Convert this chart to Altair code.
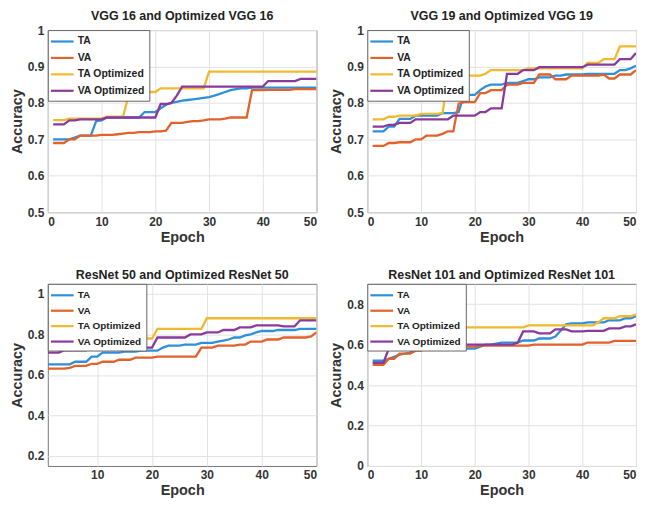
import altair as alt
import pandas as pd

SERIES = ["TA", "VA", "TA Optimized", "VA Optimized"]
COLORS = ["#2f8fd8", "#e2622a", "#f0b92e", "#8a3a9c"]
EPOCHS = list(range(1, 51))

# ---- VGG 16 ----
vgg16_ta = [0.70, 0.70, 0.70, 0.70, 0.705, 0.71, 0.71, 0.71, 0.75, 0.752,
            0.76, 0.76, 0.76, 0.76, 0.76, 0.76, 0.76, 0.775, 0.775, 0.775,
            0.785, 0.795, 0.80, 0.803, 0.806, 0.808, 0.81, 0.812, 0.814, 0.816,
            0.82, 0.825, 0.83, 0.835, 0.838, 0.84, 0.84, 0.842, 0.842, 0.842,
            0.842, 0.842, 0.842, 0.842, 0.842, 0.842, 0.842, 0.842, 0.842, 0.842]
vgg16_va = [0.69, 0.69, 0.69, 0.70, 0.70, 0.71, 0.71, 0.71, 0.71, 0.712,
            0.712, 0.712, 0.714, 0.716, 0.718, 0.718, 0.72, 0.72, 0.72, 0.722,
            0.722, 0.724, 0.745, 0.745, 0.745, 0.748, 0.75, 0.75, 0.752, 0.755,
            0.755, 0.755, 0.757, 0.76, 0.76, 0.76, 0.76, 0.835, 0.835, 0.835,
            0.836, 0.836, 0.836, 0.836, 0.836, 0.838, 0.838, 0.838, 0.838, 0.838]
vgg16_tao = [0.753, 0.753, 0.753, 0.757, 0.757, 0.757, 0.757, 0.757, 0.757, 0.757,
             0.762, 0.762, 0.762, 0.762, 0.82, 0.825, 0.83, 0.83, 0.83, 0.83,
             0.84, 0.84, 0.84, 0.84, 0.84, 0.84, 0.84, 0.84, 0.84, 0.886,
             0.886, 0.886, 0.886, 0.886, 0.886, 0.886, 0.886, 0.886, 0.886, 0.886,
             0.886, 0.886, 0.886, 0.886, 0.886, 0.886, 0.886, 0.886, 0.886, 0.886]
vgg16_vao = [0.741, 0.741, 0.741, 0.752, 0.752, 0.755, 0.755, 0.755, 0.755, 0.755,
             0.76, 0.76, 0.76, 0.76, 0.76, 0.76, 0.76, 0.76, 0.76, 0.76,
             0.797, 0.797, 0.80, 0.82, 0.845, 0.845, 0.845, 0.845, 0.845, 0.845,
             0.845, 0.845, 0.845, 0.845, 0.845, 0.845, 0.845, 0.845, 0.845, 0.845,
             0.86, 0.86, 0.86, 0.86, 0.86, 0.86, 0.866, 0.866, 0.866, 0.866]

# ---- VGG 19 ----
vgg19_ta = [0.722, 0.722, 0.722, 0.735, 0.735, 0.756, 0.756, 0.756, 0.765, 0.765,
            0.765, 0.765, 0.765, 0.772, 0.772, 0.772, 0.775, 0.822, 0.822, 0.822,
            0.835, 0.845, 0.85, 0.85, 0.85, 0.855, 0.855, 0.855, 0.86, 0.865,
            0.865, 0.87, 0.87, 0.87, 0.875, 0.875, 0.878, 0.878, 0.878, 0.878,
            0.88, 0.88, 0.88, 0.88, 0.88, 0.88, 0.89, 0.89, 0.895, 0.902]
vgg19_va = [0.682, 0.682, 0.682, 0.69, 0.69, 0.692, 0.692, 0.692, 0.70, 0.70,
            0.71, 0.71, 0.71, 0.715, 0.722, 0.722, 0.798, 0.802, 0.802, 0.802,
            0.827, 0.827, 0.835, 0.835, 0.835, 0.85, 0.85, 0.85, 0.855, 0.855,
            0.855, 0.878, 0.878, 0.878, 0.865, 0.865, 0.865, 0.875, 0.875, 0.875,
            0.875, 0.875, 0.875, 0.878, 0.867, 0.867, 0.878, 0.878, 0.878, 0.89]
vgg19_tao = [0.755, 0.755, 0.755, 0.762, 0.762, 0.765, 0.765, 0.765, 0.765, 0.77,
             0.77, 0.77, 0.77, 0.772, 0.872, 0.875, 0.875, 0.875, 0.875, 0.875,
             0.875, 0.88, 0.89, 0.89, 0.89, 0.89, 0.89, 0.89, 0.89, 0.895,
             0.895, 0.895, 0.895, 0.895, 0.895, 0.895, 0.895, 0.895, 0.895, 0.895,
             0.91, 0.91, 0.91, 0.92, 0.92, 0.92, 0.955, 0.955, 0.955, 0.955]
vgg19_vao = [0.735, 0.735, 0.735, 0.74, 0.74, 0.745, 0.745, 0.745, 0.755, 0.755,
             0.755, 0.755, 0.755, 0.755, 0.755, 0.765, 0.765, 0.765, 0.765, 0.765,
             0.775, 0.775, 0.785, 0.785, 0.785, 0.88, 0.88, 0.88, 0.89, 0.89,
             0.89, 0.898, 0.898, 0.898, 0.898, 0.898, 0.898, 0.898, 0.898, 0.898,
             0.905, 0.905, 0.905, 0.905, 0.905, 0.905, 0.92, 0.92, 0.92, 0.937]

# ---- ResNet 50 ----
r50_ta = [0.652, 0.652, 0.652, 0.652, 0.652, 0.665, 0.665, 0.665, 0.69, 0.69,
          0.71, 0.71, 0.71, 0.71, 0.715, 0.715, 0.715, 0.72, 0.72, 0.72,
          0.72, 0.735, 0.745, 0.745, 0.745, 0.75, 0.75, 0.75, 0.758, 0.758,
          0.758, 0.765, 0.77, 0.775, 0.785, 0.785, 0.795, 0.80, 0.81, 0.817,
          0.817, 0.817, 0.822, 0.822, 0.822, 0.822, 0.828, 0.828, 0.828, 0.828]
r50_va = [0.631, 0.631, 0.631, 0.631, 0.635, 0.645, 0.645, 0.645, 0.655, 0.655,
          0.665, 0.665, 0.665, 0.675, 0.675, 0.675, 0.685, 0.685, 0.685, 0.685,
          0.69, 0.69, 0.69, 0.69, 0.69, 0.69, 0.69, 0.69, 0.735, 0.735,
          0.735, 0.745, 0.745, 0.745, 0.745, 0.75, 0.75, 0.765, 0.765, 0.765,
          0.775, 0.775, 0.775, 0.785, 0.785, 0.785, 0.785, 0.785, 0.79, 0.81]
r50_tao = [0.734, 0.734, 0.734, 0.74, 0.74, 0.74, 0.74, 0.74, 0.75, 0.75,
           0.75, 0.75, 0.75, 0.75, 0.75, 0.76, 0.76, 0.78, 0.78, 0.78,
           0.828, 0.828, 0.828, 0.828, 0.828, 0.828, 0.828, 0.828, 0.828, 0.88,
           0.88, 0.88, 0.88, 0.88, 0.88, 0.88, 0.88, 0.88, 0.88, 0.88,
           0.88, 0.88, 0.88, 0.88, 0.88, 0.88, 0.88, 0.88, 0.88, 0.88]
r50_vao = [0.71, 0.71, 0.71, 0.722, 0.722, 0.722, 0.722, 0.722, 0.735, 0.735,
           0.735, 0.735, 0.735, 0.735, 0.735, 0.735, 0.735, 0.735, 0.735, 0.735,
           0.785, 0.785, 0.785, 0.785, 0.785, 0.785, 0.80, 0.80, 0.80, 0.81,
           0.81, 0.81, 0.822, 0.822, 0.822, 0.835, 0.835, 0.835, 0.845, 0.845,
           0.845, 0.845, 0.845, 0.84, 0.84, 0.84, 0.87, 0.87, 0.87, 0.87]

# ---- ResNet 101 ----
r101_ta = [0.52, 0.52, 0.52, 0.53, 0.54, 0.55, 0.555, 0.56, 0.588, 0.588,
           0.588, 0.588, 0.588, 0.588, 0.58, 0.58, 0.58, 0.58, 0.58, 0.58,
           0.59, 0.60, 0.60, 0.605, 0.61, 0.61, 0.61, 0.61, 0.62, 0.62,
           0.62, 0.63, 0.63, 0.63, 0.64, 0.67, 0.70, 0.705, 0.705, 0.705,
           0.71, 0.71, 0.71, 0.71, 0.72, 0.72, 0.72, 0.73, 0.73, 0.74]
r101_va = [0.50, 0.50, 0.50, 0.53, 0.53, 0.555, 0.555, 0.555, 0.57, 0.57,
           0.58, 0.58, 0.58, 0.58, 0.59, 0.59, 0.59, 0.59, 0.59, 0.59,
           0.595, 0.595, 0.595, 0.595, 0.595, 0.595, 0.595, 0.595, 0.595, 0.595,
           0.60, 0.60, 0.60, 0.60, 0.60, 0.60, 0.60, 0.60, 0.60, 0.60,
           0.61, 0.61, 0.61, 0.61, 0.61, 0.618, 0.618, 0.618, 0.618, 0.618]
r101_tao = [0.65, 0.65, 0.65, 0.66, 0.66, 0.66, 0.66, 0.66, 0.66, 0.66,
            0.67, 0.67, 0.67, 0.67, 0.67, 0.675, 0.675, 0.685, 0.685, 0.685,
            0.685, 0.685, 0.685, 0.685, 0.685, 0.685, 0.685, 0.685, 0.685, 0.695,
            0.695, 0.695, 0.695, 0.695, 0.695, 0.695, 0.695, 0.695, 0.695, 0.695,
            0.695, 0.695, 0.71, 0.73, 0.73, 0.73, 0.74, 0.74, 0.74, 0.75]
r101_vao = [0.51, 0.51, 0.51, 0.58, 0.58, 0.58, 0.58, 0.58, 0.59, 0.59,
            0.59, 0.59, 0.59, 0.59, 0.60, 0.60, 0.60, 0.60, 0.60, 0.60,
            0.60, 0.60, 0.60, 0.60, 0.60, 0.60, 0.60, 0.61, 0.665, 0.665,
            0.665, 0.655, 0.655, 0.655, 0.675, 0.675, 0.675, 0.665, 0.665, 0.665,
            0.668, 0.668, 0.668, 0.668, 0.68, 0.68, 0.68, 0.69, 0.69, 0.70]

FONT = "Liberation Sans"


def long_df(arrays):
    rows = []
    for name, vals in zip(SERIES, arrays):
        for e, v in zip(EPOCHS, vals):
            rows.append({"Epoch": e, "Accuracy": v, "Series": name})
    return pd.DataFrame(rows)


def panel(title, arrays, ydom, yticks, xdom, xticks, w, h, lfont, lrow):
    df = long_df(arrays)
    return alt.Chart(df).mark_line(strokeWidth=2.3, clip=True).encode(
        x=alt.X("Epoch:Q", scale=alt.Scale(domain=xdom, nice=False, zero=False),
                axis=alt.Axis(values=xticks, title="Epoch", format="d")),
        y=alt.Y("Accuracy:Q", scale=alt.Scale(domain=ydom, nice=False, zero=False),
                axis=alt.Axis(values=yticks, title="Accuracy", format="~g")),
        color=alt.Color("Series:N",
                        scale=alt.Scale(domain=SERIES, range=COLORS),
                        sort=SERIES,
                        legend=alt.Legend(orient="top-left", title=None, offset=0,
                                          fillColor="white", strokeColor="#666",
                                          padding=4, symbolType="M-1.9,0H1.9",
                                          symbolSize=144, symbolStrokeWidth=2.2,
                                          symbolOffset=3,
                                          labelFont=FONT, labelFontSize=lfont,
                                          labelFontWeight="bold", labelColor="#222",
                                          rowPadding=lrow, labelOffset=8)),
        order=alt.Order("Epoch:Q"),
    ).properties(width=w, height=h,
                 title=alt.TitleParams(title, fontSize=12.5, fontWeight="bold",
                                       font=FONT, color="#222", offset=2))


W, H = 270, 183
p1 = panel("VGG 16 and Optimized VGG 16",
           [vgg16_ta, vgg16_va, vgg16_tao, vgg16_vao],
           [0.5, 1.0], [0.5, 0.6, 0.7, 0.8, 0.9, 1.0], [0, 50], [0, 10, 20, 30, 40, 50], W, H, 10.5, 3.5)
p2 = panel("VGG 19 and Optimized VGG 19",
           [vgg19_ta, vgg19_va, vgg19_tao, vgg19_vao],
           [0.5, 1.0], [0.5, 0.6, 0.7, 0.8, 0.9, 1.0], [0, 50], [0, 10, 20, 30, 40, 50], W, H, 10.5, 3.5)
p3 = panel("ResNet 50 and Optimized ResNet 50",
           [r50_ta, r50_va, r50_tao, r50_vao],
           [0.15, 1.05], [0.2, 0.4, 0.6, 0.8, 1.0], [1, 50], [10, 20, 30, 40, 50], W, H, 10, 2.5)
p4 = panel("ResNet 101 and Optimized ResNet 101",
           [r101_ta, r101_va, r101_tao, r101_vao],
           [0.0, 0.9], [0.0, 0.2, 0.4, 0.6, 0.8], [0, 50], [0, 10, 20, 30, 40, 50], W, H, 10, 2.5)

row1 = alt.hconcat(p1, p2, spacing=10).resolve_scale(color="independent").resolve_legend(color="independent")
row2 = alt.hconcat(p3, p4, spacing=10).resolve_scale(color="independent").resolve_legend(color="independent")

chart = alt.vconcat(row1, row2, spacing=24).resolve_scale(
    color="independent").resolve_legend(color="independent").configure(
    background="white", padding=0
).configure_view(
    stroke="#777", strokeWidth=1
).configure_axis(
    labelFont=FONT, labelFontSize=12, labelFontWeight="bold", labelColor="#333",
    titleFont=FONT, titleFontSize=14.5, titleFontWeight="bold", titleColor="#333",
    gridColor="#e2e2e2", domain=False, ticks=False, labelPadding=4, titlePadding=3
)

chart.save("out.html", embed_options={"renderer": "svg", "actions": False})
